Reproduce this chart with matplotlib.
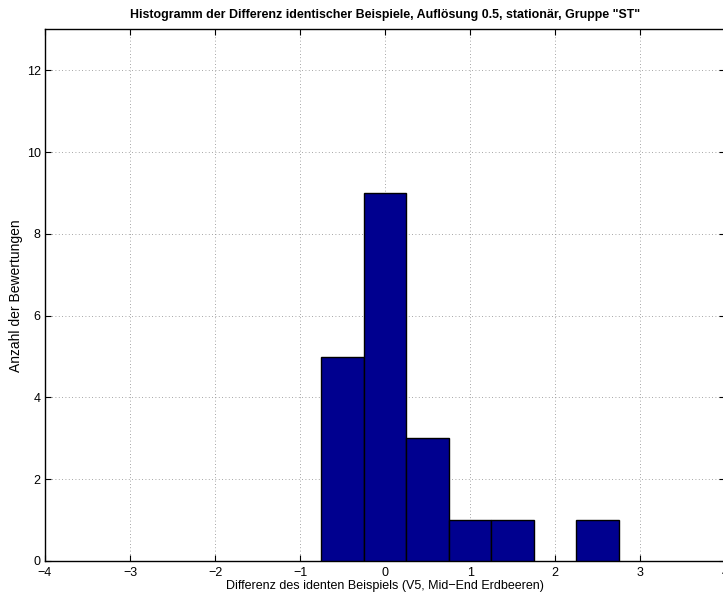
import matplotlib
matplotlib.use("Agg")
import matplotlib.pyplot as plt
import numpy as np

plt.rcParams['font.family'] = ['Liberation Sans', 'DejaVu Sans']

# bin centres (resolution 0.5) and counts
bin_centers = [-0.5, 0.0, 0.5, 1.0, 1.5, 2.5]
counts = [5, 9, 3, 1, 1, 1]
bin_width = 0.5

fig = plt.figure(figsize=(7.23, 5.98), dpi=100)
ax = fig.add_axes([0.0622, 0.0619, 0.9408, 0.8888])

ax.bar(bin_centers, counts, width=bin_width, color='#00008F',
       edgecolor='black', linewidth=1.0, zorder=3)

ax.set_xlim(-4, 4)
ax.set_ylim(0, 13)
ax.set_xticks(np.arange(-4, 5, 1))
ax.set_yticks(np.arange(0, 13, 2))
ax.set_xticklabels(['\u2212%d' % -v if v < 0 else '%d' % v for v in range(-4, 5)])

ax.grid(True, linestyle=(0, (1, 3)), color='#888888', linewidth=0.6, zorder=0)
ax.tick_params(direction='in', top=True, right=True, length=4, labelsize=9,
               width=0.8)
ax.tick_params(axis='x', pad=4)
ax.tick_params(axis='y', pad=3)
for s in ax.spines.values():
    s.set_linewidth(1.0)

ax.set_title('Histogramm der Differenz identischer Beispiele, Aufl\u00f6sung 0.5, '
             'station\u00e4r, Gruppe "ST"', fontsize=8.9, fontweight='bold', pad=8)
ax.set_xlabel('Differenz des identen Beispiels (V5, Mid\u2212End Erdbeeren)',
              fontsize=9, labelpad=1)
ax.set_ylabel('Anzahl der Bewertungen', fontsize=10, labelpad=3)

fig.savefig('out.png', dpi=100)
